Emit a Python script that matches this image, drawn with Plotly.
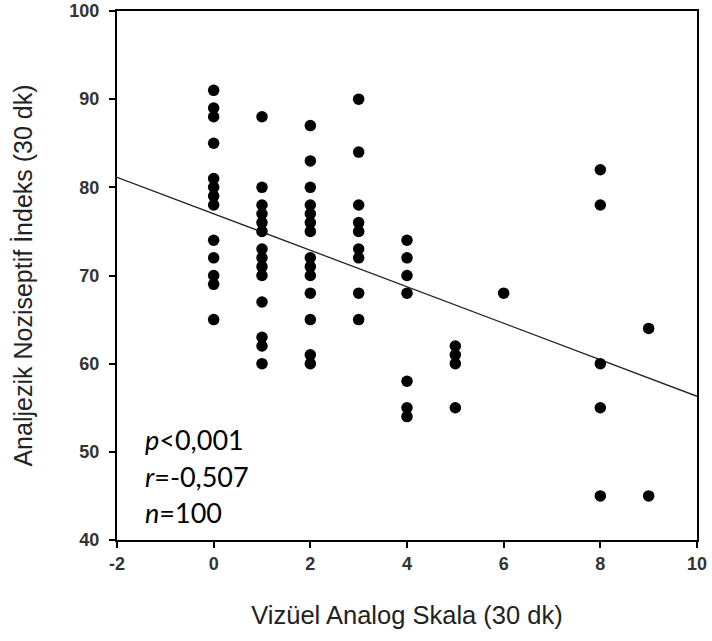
import plotly.graph_objects as go

# Data (VAS score vs. ANI)
vas_0 = [91, 89, 88, 85, 81, 80, 79, 78, 74, 72, 70, 69, 65]
vas_1 = [88, 80, 78, 77, 76, 75, 73, 72, 71, 70, 67, 63, 62, 60]
vas_2 = [87, 83, 80, 78, 77, 76, 75, 72, 71, 70, 68, 65, 61, 60]
vas_3 = [90, 84, 78, 76, 75, 73, 72, 68, 65]
vas_4 = [74, 72, 70, 68, 58, 55, 54]
vas_5 = [62, 61, 60, 55]
vas_6 = [68]
vas_8 = [82, 78, 60, 55, 45]
vas_9 = [64, 45]

groups = {0: vas_0, 1: vas_1, 2: vas_2, 3: vas_3, 4: vas_4,
          5: vas_5, 6: vas_6, 8: vas_8, 9: vas_9}

x_vals = [k for k, vals in groups.items() for _ in vals]
y_vals = [v for vals in groups.values() for v in vals]

# Regression line
fit_intercept = 77.0
fit_slope = -2.07
fit_x = [-2, 10]
fit_y = [fit_intercept + fit_slope * xv for xv in fit_x]

stats_lines = [("p", "<0,001"), ("r", "=-0,507"), ("n", "=100")]
stats_y = [51.4, 47.2, 43.1]

x_ticks = [-2, 0, 2, 4, 6, 8, 10]
y_ticks = [40, 50, 60, 70, 80, 90, 100]

ARIAL = "Liberation Sans"

fig = go.Figure()
fig.add_trace(go.Scatter(x=fit_x, y=fit_y, mode="lines",
                         line=dict(color="#222222", width=1.3),
                         showlegend=False, hoverinfo="skip"))
fig.add_trace(go.Scatter(x=x_vals, y=y_vals, mode="markers",
                         marker=dict(color="black", size=11.5, symbol="circle"),
                         showlegend=False))

for (letter, rest), yv in zip(stats_lines, stats_y):
    fig.add_annotation(x=-1.47, y=yv, xref="x", yref="y", xanchor="left",
                       yanchor="middle", showarrow=False,
                       text=f"<i>{letter}</i>{rest}",
                       font=dict(family="Lato", size=27, color="black"))

axis_common = dict(showline=True, linecolor="black", linewidth=2, mirror=True,
                   ticks="outside", ticklen=6, tickwidth=2, tickcolor="black",
                   showgrid=False, zeroline=False, automargin=False,
                   tickfont=dict(family=ARIAL, size=18, color="#333333", weight="bold"))

fig.update_xaxes(range=[-2, 10], tickvals=x_ticks, ticktext=[str(t) for t in x_ticks],
                 title=dict(text="Vizüel Analog Skala (30 dk)", standoff=34,
                            font=dict(family=ARIAL, size=25.5, color="#222222")),
                 **axis_common)
fig.update_yaxes(range=[40, 100], tickvals=y_ticks, ticktext=[str(t) for t in y_ticks],
                 ticklabelstandoff=6,
                 title=dict(text="Analjezik Noziseptif İndeks (30 dk)", standoff=30,
                            font=dict(family=ARIAL, size=25, color="#222222")),
                 **axis_common)

fig.update_layout(width=712, height=641, margin=dict(l=117, r=15, t=11, b=101),
                  plot_bgcolor="white", paper_bgcolor="white")

fig.write_html("out.html")
